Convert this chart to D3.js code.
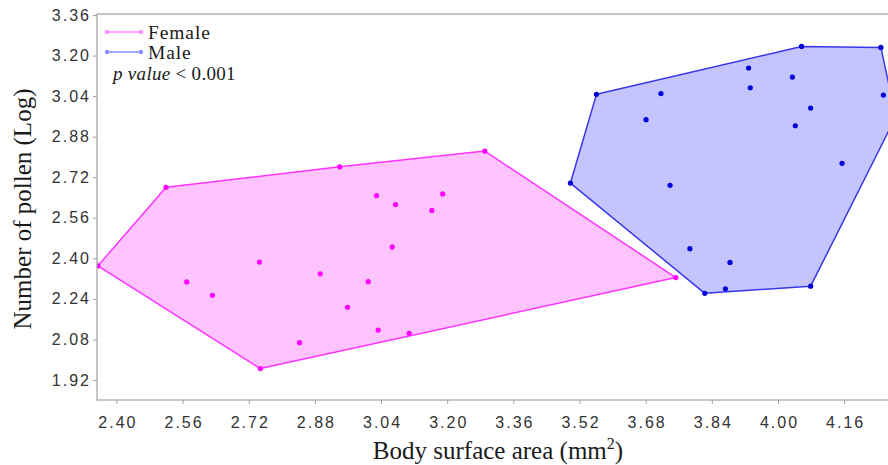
<!DOCTYPE html>
<html>
<head>
<meta charset="utf-8">
<script src="https://cdn.jsdelivr.net/npm/d3@7"></script>
<style>
    body { margin: 0; background: #fff; }
    text { font-family: "Liberation Serif", "DejaVu Serif", serif; fill: #1a1a1a; }
    .tickLabel { font-family: "Liberation Sans", Arial, sans-serif; font-size: 16px; letter-spacing: 2px; fill: #333; }
    .axisTitle { font-size: 25px; }
    .legendText { font-size: 19.5px; letter-spacing: 0.9px; }
</style>
</head>
<body>
<svg id="chart" width="888" height="465"></svg>
<script>
// values: [body surface area, log pollen]
const femalePts = [
    [2.355, 2.370], [2.520, 2.680], [2.940, 2.761], [3.291, 2.823],
    [3.029, 2.647], [3.075, 2.612], [3.189, 2.654], [3.163, 2.589],
    [3.067, 2.445], [2.746, 2.385], [2.570, 2.307], [2.632, 2.254],
    [2.893, 2.339], [3.009, 2.308], [2.959, 2.207], [2.843, 2.067],
    [3.033, 2.117], [3.108, 2.104], [2.748, 1.965], [3.753, 2.324]
]
const malePts = [
    [4.057, 3.236], [4.249, 3.232], [4.255, 3.044], [3.561, 3.047],
    [3.717, 3.050], [3.929, 3.151], [4.035, 3.115], [3.933, 3.073],
    [4.079, 2.993], [4.042, 2.923], [3.681, 2.947], [4.155, 2.775],
    [3.739, 2.688], [3.498, 2.697], [3.787, 2.438], [3.884, 2.384],
    [3.823, 2.262], [3.873, 2.280], [4.079, 2.290], [4.285, 2.958]
]
const xTicks = [2.40, 2.56, 2.72, 2.88, 3.04, 3.20, 3.36, 3.52, 3.68, 3.84, 4.00, 4.16]
const yTicks = [1.92, 2.08, 2.24, 2.40, 2.56, 2.72, 2.88, 3.04, 3.20, 3.36]

const groups = [
    { name: 'Female', pts: femalePts, stroke: '#ff33ff', fill: '#ffc4ff', dot: '#ff00ff', legend: '#ff88ff' },
    { name: 'Male', pts: malePts, stroke: '#3838e8', fill: '#c4c4ff', dot: '#0000d8', legend: '#8888ff' }
]

const style = {
    left: 97, top: 14, bottom: 400, right: 902,
    axisColor: '#a0a0a0'
}

const svg = d3.select('#chart')

const x = d3.scaleLinear().domain([2.353, 4.30]).range([style.left, style.right])
const y = d3.scaleLinear().domain([1.841, 3.364]).range([style.bottom, style.top])

svg.append('clipPath').attr('id', 'clippy')
    .append('rect')
    .attr('x', style.left)
    .attr('y', style.top)
    .attr('width', style.right - style.left)
    .attr('height', style.bottom - style.top)

// hulls + dots
let plotG = svg.append('g').attr('clip-path', 'url(#clippy)')

groups.forEach(g => {
    let hull = d3.polygonHull(g.pts.map(d => [x(d[0]), y(d[1])]))
    plotG.append('path')
        .attr('d', 'M' + hull.join('L') + 'Z')
        .attr('fill', g.fill)
        .attr('stroke', g.stroke)
        .attr('stroke-width', 1.5)
        .attr('stroke-linejoin', 'round')

    plotG.append('g')
        .selectAll('circle')
        .data(g.pts)
        .join('circle')
        .attr('cx', d => x(d[0]))
        .attr('cy', d => y(d[1]))
        .attr('r', 2.6)
        .attr('fill', g.dot)
})

// frame (right side runs off the picture)
svg.append('rect')
    .attr('x', style.left)
    .attr('y', style.top)
    .attr('width', style.right - style.left)
    .attr('height', style.bottom - style.top)
    .attr('fill', 'none')
    .attr('stroke', style.axisColor)
    .attr('stroke-width', 1.2)

// axes
let xAxis = d3.axisBottom(x).tickValues(xTicks).tickFormat(d3.format('.2f')).tickSize(4).tickPadding(13)
let yAxis = d3.axisLeft(y).tickValues(yTicks).tickFormat(d3.format('.2f')).tickSize(4).tickPadding(2)

let xAxisG = svg.append('g')
    .attr('transform', 'translate(0,' + style.bottom + ')')
    .call(xAxis)
let yAxisG = svg.append('g')
    .attr('transform', 'translate(' + style.left + ',0)')
    .call(yAxis)

;[xAxisG, yAxisG].forEach(a => {
    a.attr('font-family', null).attr('font-size', null)
    a.select('.domain').remove()
    a.selectAll('.tick line').attr('stroke', style.axisColor)
    a.selectAll('.tick text').classed('tickLabel', true).attr('fill', null)
})
// letter-spacing leaves a trailing gap, shift centred labels back by half of it
xAxisG.selectAll('.tick text').attr('dx', 1)

// axis titles
let xTitle = svg.append('text')
    .classed('axisTitle', true)
    .attr('x', 498)
    .attr('y', 459)
    .attr('font-size', 27)
    .style('text-anchor', 'middle')
xTitle.append('tspan').text('Body surface area (mm')
xTitle.append('tspan').text('2').attr('font-size', 16).attr('dy', -10)
xTitle.append('tspan').text(')').attr('dy', 10)

svg.append('text')
    .classed('axisTitle', true)
    .attr('transform', 'translate(31,' + 209 + ') rotate(-90)')
    .style('text-anchor', 'middle')
    .text('Number of pollen (Log)')

// legend
let legendG = svg.append('g').attr('transform', 'translate(105,32)')
let legendsG = legendG.selectAll(null)
    .data(groups)
    .enter()
    .append('g')
    .attr('transform', (d, i) => 'translate(0,' + i * 20 + ')')

legendsG.append('line')
    .attr('x1', 2).attr('x2', 36)
    .attr('stroke', d => d.legend)
    .attr('stroke-width', 1.5)
legendsG.append('circle').attr('cx', 2).attr('r', 2.2).attr('fill', d => d.legend)
legendsG.append('circle').attr('cx', 36).attr('r', 2.2).attr('fill', d => d.legend)
legendsG.append('text')
    .classed('legendText', true)
    .attr('x', 43)
    .attr('dy', '0.35em')
    .text(d => d.name)

let pText = svg.append('text')
    .attr('x', 113)
    .attr('y', 80)
    .attr('font-size', 19)
    .attr('letter-spacing', 0.3)
pText.append('tspan').text('p value').attr('font-style', 'italic')
pText.append('tspan').text(' < 0.001')
</script>
</body>
</html>
